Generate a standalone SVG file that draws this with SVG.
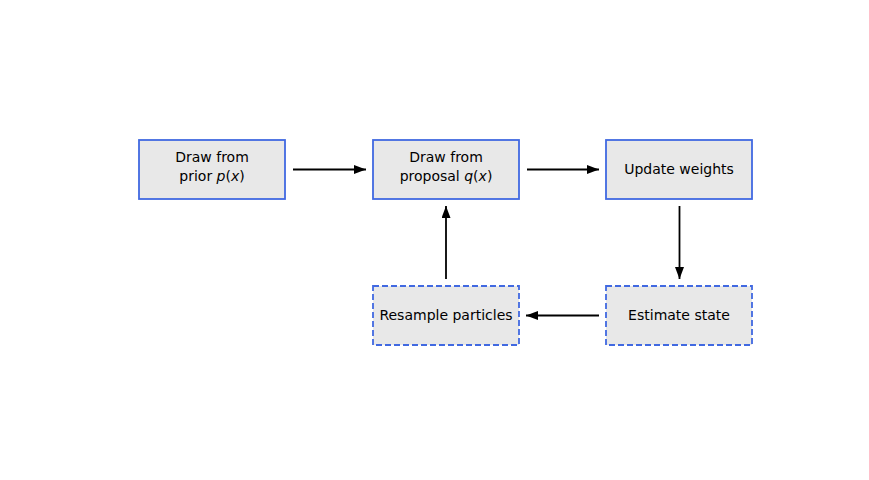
<svg xmlns="http://www.w3.org/2000/svg" width="869" height="480" viewBox="0 0 869 480">
<style>
.box{fill:#e8e8e8;stroke:#4169e1;stroke-width:1.8}
.dash{stroke-dasharray:6,3}
.t{font-family:"DejaVu Sans",sans-serif;font-size:14px;fill:#000;text-anchor:middle}
.c{stroke:#000;stroke-width:1.8;fill:none;marker-end:url(#ah)}
</style>
<defs>
<marker id="ah" viewBox="0 0 12 9" refX="12" refY="4.5" markerWidth="12" markerHeight="9" markerUnits="userSpaceOnUse" orient="auto">
<path d="M0,0 L12,4.5 L0,9 Z" fill="#000"/>
</marker>
</defs>
<rect width="869" height="480" fill="#fff"/>
<g id="connectors">
<line class="c" x1="293" y1="169.5" x2="366" y2="169.5"/>
<line class="c" x1="527" y1="169.5" x2="599" y2="169.5"/>
<line class="c" x1="679.5" y1="206" x2="679.5" y2="279"/>
<line class="c" x1="599" y1="315.5" x2="526" y2="315.5"/>
<line class="c" x1="446" y1="279" x2="446" y2="206"/>
</g>
<g id="prior">
<rect class="box" x="139" y="140" width="146" height="59"/>
<text class="t" x="212" y="162">Draw from</text>
<text class="t" x="212" y="181">prior <tspan font-style="italic">p</tspan>(<tspan font-style="italic">x</tspan>)</text>
</g>
<g id="proposal">
<rect class="box" x="373" y="140" width="146" height="59"/>
<text class="t" x="446" y="162">Draw from</text>
<text class="t" x="446" y="181">proposal <tspan font-style="italic">q</tspan>(<tspan font-style="italic">x</tspan>)</text>
</g>
<g id="update">
<rect class="box" x="606" y="140" width="146" height="59"/>
<text class="t" x="679" y="174">Update weights</text>
</g>
<g id="estimate">
<rect class="box dash" x="606" y="286" width="146" height="59"/>
<text class="t" x="679" y="320">Estimate state</text>
</g>
<g id="resample">
<rect class="box dash" x="373" y="286" width="146" height="59"/>
<text class="t" x="446" y="320">Resample particles</text>
</g>
</svg>
